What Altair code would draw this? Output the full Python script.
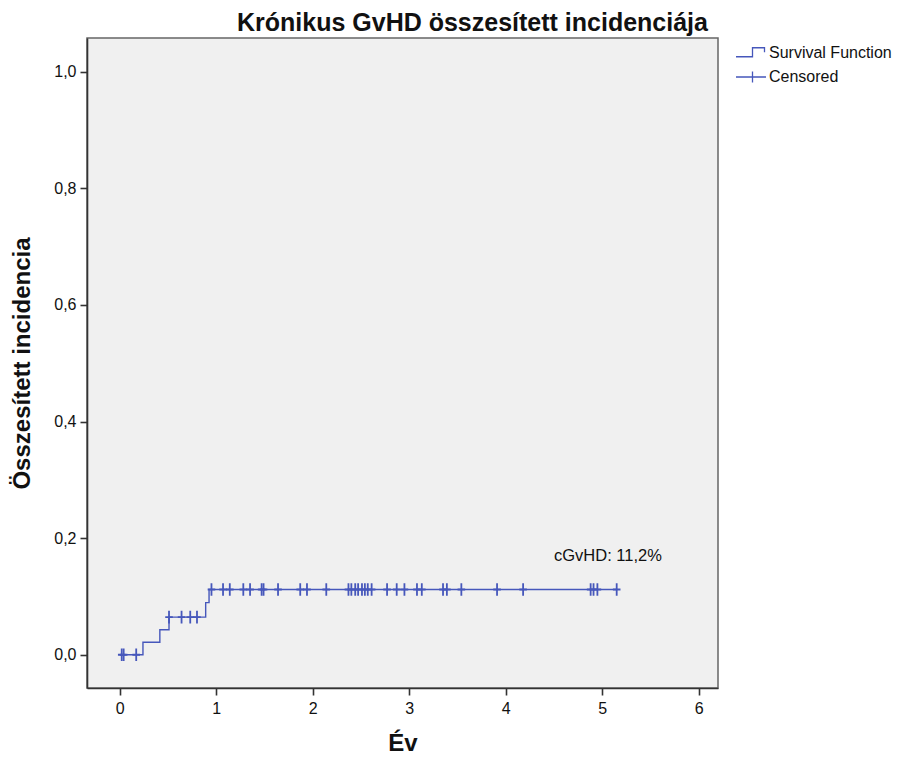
import altair as alt
import pandas as pd

# Step function (cumulative incidence) change points
step_times = [0.0, 0.24, 0.415, 0.51, 0.89, 0.925, 5.15]
step_values = [0.0, 0.0215, 0.043, 0.0645, 0.0895, 0.112, 0.112]

# Censored observation times (years)
censor_times = [0.02, 0.04, 0.17,
                0.51, 0.64, 0.73, 0.80,
                0.95, 1.07, 1.14, 1.28, 1.35, 1.47, 1.49, 1.64, 1.87, 1.94,
                2.14, 2.37, 2.40, 2.44, 2.47, 2.51, 2.54, 2.57, 2.61, 2.77,
                2.87, 2.95, 3.08, 3.13, 3.35, 3.39, 3.54, 3.91, 4.18, 4.88,
                4.91, 4.95, 5.15]

legend_labels = ["Survival Function", "Censored"]
annotation_text = ["cGvHD: 11,2%"]
annotation_x = [4.50]
annotation_y = [0.17]

x_ticks = [0, 1, 2, 3, 4, 5, 6]
y_ticks = [0.0, 0.2, 0.4, 0.6, 0.8, 1.0]

BLUE = "#4657bb"
FONT = "Liberation Sans"


def level_at(t):
    v = 0.0
    for st, sv in zip(step_times, step_values):
        if st <= t:
            v = sv
    return v


line_df = pd.DataFrame({"t": step_times, "v": step_values})
cens_df = pd.DataFrame({"t": censor_times,
                        "v": [level_at(t) for t in censor_times],
                        "series": "Censored"})
ann_df = pd.DataFrame({"t": annotation_x, "v": annotation_y, "label": annotation_text})

xscale = alt.Scale(domain=[-0.34, 6.2], nice=False, zero=False)
yscale = alt.Scale(domain=[-0.057, 1.058], nice=False, zero=False)

label_expr = "replace(format(datum.value, '.1f'), '.', ',')"

x_enc = alt.X("t:Q", scale=xscale,
              axis=alt.Axis(title="Év", values=x_ticks, format="d", grid=False,
                            tickSize=7, labelPadding=5, titlePadding=15,
                            labelFontSize=16, titleFontSize=24, titleFontWeight="bold"))
y_enc = alt.Y("v:Q", scale=yscale,
              axis=alt.Axis(title="Összesített incidencia", values=y_ticks, labelExpr=label_expr,
                            grid=False, tickSize=7, labelPadding=4, titlePadding=19,
                            labelFontSize=16, titleFontSize=24, titleFontWeight="bold"))

line = alt.Chart(line_df).mark_line(interpolate="step-after", color=BLUE, strokeWidth=1.4).encode(
    x=x_enc, y=y_enc)

cross_path = "M-0.6,0L0.6,0M0,-1L0,1"
censors = alt.Chart(cens_df).mark_point(shape=cross_path, size=160, filled=False, color=BLUE,
                                         strokeWidth=1.8, opacity=1).encode(x=x_enc, y=y_enc)

step_sym = "M-1,0.25L0.1,0.25L0.1,-0.35L0.9,-0.35L0.9,-0.05"
cens_sym = "M-1,0L1,0M0.1,-0.37L0.1,0.37"
legend_layer = alt.Chart(cens_df).transform_filter("false").mark_point(
    filled=False, color=BLUE, strokeWidth=1.3, opacity=1).encode(
    x=x_enc, y=y_enc,
    shape=alt.Shape("series:N",
                    scale=alt.Scale(domain=legend_labels, range=[step_sym, cens_sym]),
                    legend=alt.Legend(title=None, orient="none", legendX=648, legendY=-1,
                                      labelFont=FONT, labelFontSize=16, labelColor="#111",
                                      symbolSize=900, symbolStrokeWidth=1.3,
                                      symbolStrokeColor=BLUE, symbolFillColor="transparent",
                                      labelOffset=2, rowPadding=-14)))

annot = alt.Chart(ann_df).mark_text(align="left", baseline="middle", font=FONT,
                                    fontSize=16.5, color="#111").encode(
    x=alt.X("t:Q", scale=xscale), y=alt.Y("v:Q", scale=yscale), text="label:N")

chart = alt.layer(line, censors, legend_layer, annot).properties(
    width=631, height=650,
    title=alt.TitleParams("Krónikus GvHD összesített incidenciája", anchor="start", frame="group",
                          dx=150, offset=1, font=FONT, fontSize=25, fontWeight="bold",
                          color="#111"),
    autosize=alt.AutoSizeParams(type="none"),
    padding={"left": 79, "top": 30, "right": 178, "bottom": 70},
    background="white",
).configure_view(
    fill="#f0f0f0", stroke="#666", strokeWidth=1.5
).configure_axis(
    labelFont=FONT, titleFont=FONT, domainColor="#333", domainWidth=1.6,
    tickColor="#333", tickWidth=1.6, labelColor="#111", titleColor="#111"
)

chart.save("out.html", embed_options={"renderer": "svg", "actions": False})
